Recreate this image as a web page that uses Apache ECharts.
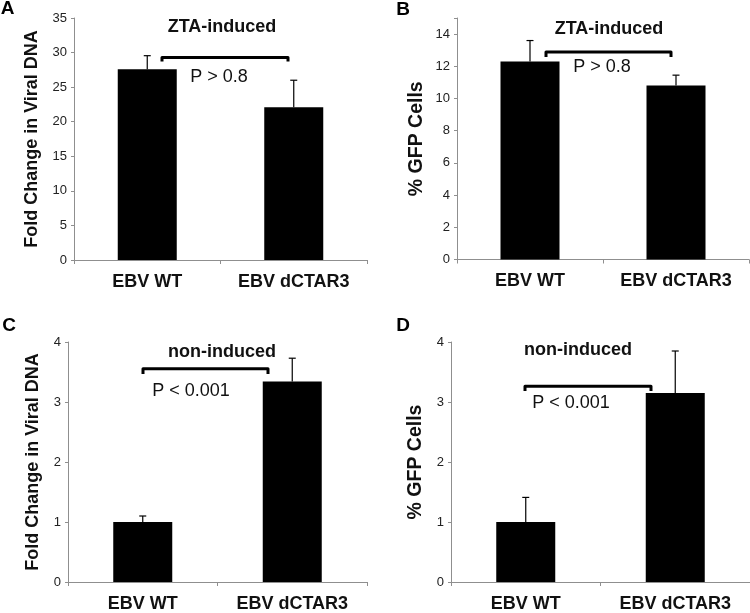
<!DOCTYPE html>
<html>
<head>
<meta charset="utf-8">
<script src="https://cdn.jsdelivr.net/npm/echarts@6/dist/echarts.min.js"></script>
<style>
html,body{margin:0;padding:0;background:#fff;}
#chart{width:750px;height:613px;}
</style>
</head>
<body>
<div id="chart"></div>
<script>
var categories = ['EBV WT', 'EBV dCTAR3'];

var valuesA = [27.6, 22.1];
var errorsA = [1.95, 3.9];
var valuesB = [12.3, 10.8];
var errorsB = [1.3, 0.65];
var valuesC = [1.0, 3.34];
var errorsC = [0.1, 0.39];
var valuesD = [1.0, 3.15];
var errorsD = [0.41, 0.70];

var yTicksA = {min: 0, max: 35, interval: 5};
var yTicksB = {min: 0, max: 15, interval: 2};
var yTicksC = {min: 0, max: 4, interval: 1};
var yTicksD = {min: 0, max: 4, interval: 1};

var yNameA = 'Fold Change in Viral DNA';
var yNameB = '% GFP Cells';
var yNameC = 'Fold Change in Viral DNA';
var yNameD = '% GFP Cells';

var panelLetters = ['A', 'B', 'C', 'D'];
var headings = ['ZTA-induced', 'ZTA-induced', 'non-induced', 'non-induced'];
var pTexts = ['P > 0.8', 'P > 0.8', 'P < 0.001', 'P < 0.001'];

var FONT = '"Liberation Sans", Arial, Helvetica, sans-serif';
var AXIS_COLOR = '#8f8f8f';

var grids = [
  {left: 74, top: 18, width: 293, height: 242},
  {left: 457, top: 18, width: 292, height: 241.5},
  {left: 68, top: 342, width: 299, height: 242},
  {left: 451, top: 342, width: 299, height: 242}
];

var panels = [
  {values: valuesA, errors: errorsA, ticks: yTicksA, name: yNameA, nameSize: 18, nameGap: 33},
  {values: valuesB, errors: errorsB, ticks: yTicksB, name: yNameB, nameSize: 19.5, nameGap: 30},
  {values: valuesC, errors: errorsC, ticks: yTicksC, name: yNameC, nameSize: 18, nameGap: 26},
  {values: valuesD, errors: errorsD, ticks: yTicksD, name: yNameD, nameSize: 19.5, nameGap: 25}
];

var xAxes = [], yAxes = [], series = [];
panels.forEach(function (p, i) {
  xAxes.push({
    type: 'category', gridIndex: i, data: categories,
    axisLine: {lineStyle: {color: AXIS_COLOR, width: 1}},
    axisTick: {show: true, length: 4, lineStyle: {color: AXIS_COLOR}},
    axisLabel: {color: '#111', fontFamily: FONT, fontWeight: 'bold', fontSize: 18, margin: 13}
  });
  yAxes.push({
    type: 'value', gridIndex: i,
    min: p.ticks.min, max: p.ticks.max, interval: p.ticks.interval,
    name: p.name, nameLocation: 'middle', nameRotate: 90, nameGap: p.nameGap,
    nameTextStyle: {color: '#111', fontFamily: FONT, fontWeight: 'bold', fontSize: p.nameSize},
    axisLine: {show: true, lineStyle: {color: AXIS_COLOR, width: 1}},
    axisTick: {show: true, length: 3, lineStyle: {color: AXIS_COLOR}},
    splitLine: {show: false},
    axisLabel: {
      color: '#222', fontFamily: FONT, fontSize: 13, margin: 7,
      formatter: function (v) { return (v % p.ticks.interval === 0) ? String(v) : ''; }
    }
  });
  series.push({
    type: 'bar', xAxisIndex: i, yAxisIndex: i,
    data: p.values, barWidth: 59,
    itemStyle: {color: '#000'},
    silent: true, animation: false
  });
  var errData = p.values.map(function (v, k) { return [k, v, p.errors[k]]; });
  series.push({
    type: 'custom', xAxisIndex: i, yAxisIndex: i,
    data: errData, animation: false, silent: true, z: 5,
    renderItem: function (params, api) {
      var k = api.value(0), v = api.value(1), e = api.value(2);
      var p0 = api.coord([k, v]);
      var p1 = api.coord([k, v + e]);
      var st = {stroke: '#000', lineWidth: 1.2};
      return {
        type: 'group',
        children: [
          {type: 'line', shape: {x1: p0[0], y1: p0[1], x2: p1[0], y2: p1[1]}, style: st},
          {type: 'line', shape: {x1: p1[0] - 3.5, y1: p1[1], x2: p1[0] + 3.5, y2: p1[1]}, style: st}
        ]
      };
    }
  });
});

// annotation positions (pixels)
var letterPos = [[7.5, 9], [403, 10], [9, 326], [403, 326]];
var headingPos = [[222, 27], [609, 29], [222, 352], [578, 350]];
var pPos = [[219, 77], [602, 67], [191, 391], [571, 403]];
var bracketPos = [[162, 288, 57.5, 61.5], [546, 671, 52, 57], [143, 268, 368.7, 374], [525, 651, 386.3, 391]];

var graphics = [];
for (var i = 0; i < 4; i++) {
  graphics.push({
    type: 'text', x: letterPos[i][0], y: letterPos[i][1],
    style: {text: panelLetters[i], font: 'bold 19px ' + FONT, fill: '#000', align: 'center', verticalAlign: 'middle'}
  });
  graphics.push({
    type: 'text', x: headingPos[i][0], y: headingPos[i][1],
    style: {text: headings[i], font: 'bold 18px ' + FONT, fill: '#111', align: 'center', verticalAlign: 'middle'}
  });
  graphics.push({
    type: 'text', x: pPos[i][0], y: pPos[i][1],
    style: {text: pTexts[i], font: '18px ' + FONT, fill: '#111', align: 'center', verticalAlign: 'middle'}
  });
  var b = bracketPos[i];
  graphics.push({
    type: 'polyline',
    shape: {points: [[b[0], b[3]], [b[0], b[2]], [b[1], b[2]], [b[1], b[3]]]},
    style: {stroke: '#000', lineWidth: 3, fill: null, lineJoin: 'round', lineCap: 'butt'}
  });
}

var chart = echarts.init(document.getElementById('chart'), null, {renderer: 'canvas'});
chart.setOption({
  backgroundColor: '#fff',
  animation: false,
  grid: grids,
  xAxis: xAxes,
  yAxis: yAxes,
  series: series,
  graphic: graphics
});
</script>
</body>
</html>
